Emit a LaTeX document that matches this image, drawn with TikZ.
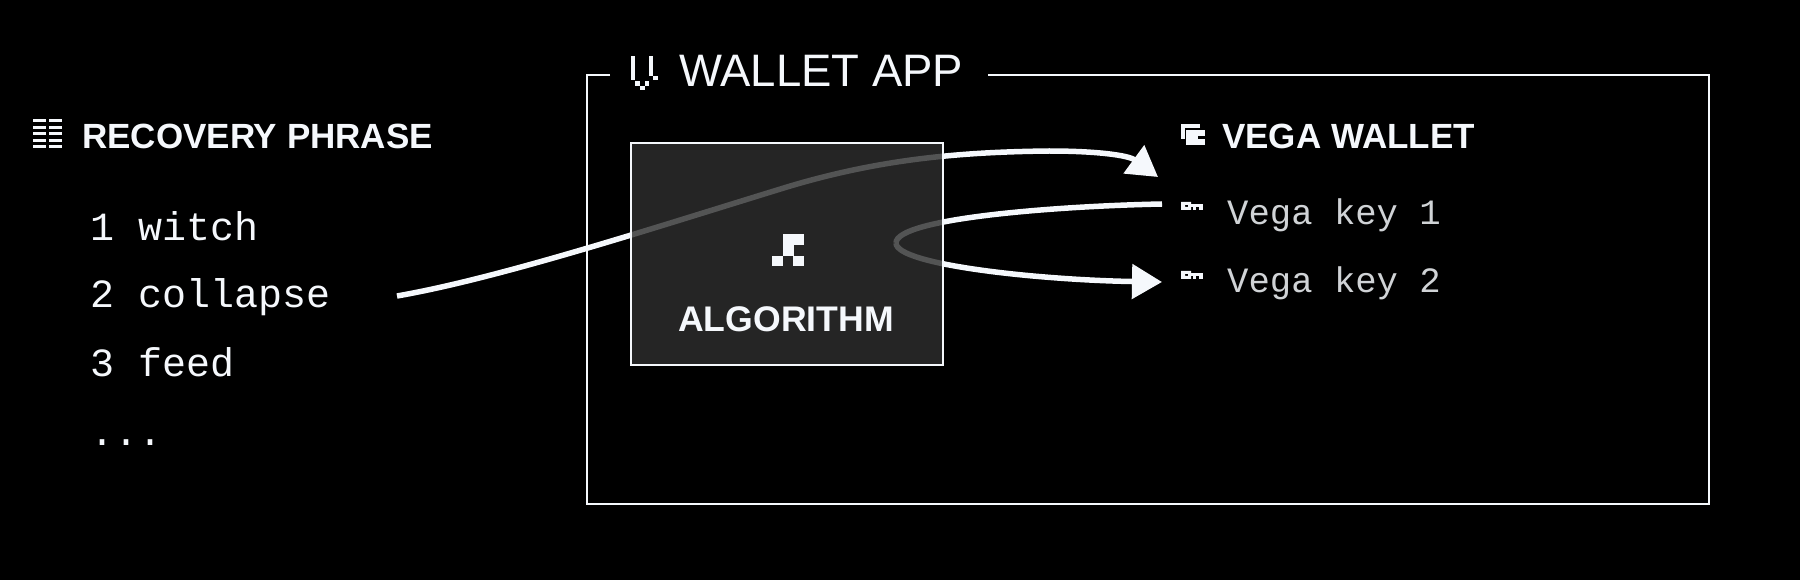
\documentclass[tikz,border=0pt]{standalone}
\usepackage{fontspec}
\setmainfont{Liberation Sans}
\setmonofont{Liberation Mono}
\usetikzlibrary{arrows.meta}
\definecolor{vegawhite}{HTML}{F5F8FC}
\definecolor{algofill}{HTML}{2E2E2E}
\begin{document}
\begin{tikzpicture}[
	x=1pt, y=-1pt,
	heading/.style={ text=vegawhite, anchor=base west, inner sep=0pt, font=\bfseries\fontsize{35}{35}\selectfont },
	apptitle/.style={ text=vegawhite, anchor=base west, inner sep=0pt, font=\fontsize{45.5}{46}\selectfont },
	word/.style={ text=vegawhite, anchor=base west, inner sep=0pt, font=\ttfamily\fontsize{40}{40}\selectfont },
	keyname/.style={ text=vegawhite!85!black, anchor=base west, inner sep=0pt, font=\ttfamily\fontsize{35.6}{36}\selectfont },
	algobox/.style={ draw=vegawhite, line width=2pt, fill=algofill, fill opacity=0.81, draw opacity=1, inner sep=0pt, minimum width=312pt, minimum height=222pt },
	link/.style={ vegawhite, line width=5.5pt },
	linkhead/.style={ -{Triangle[length=30pt,width=34pt]} },
	pixel/.style={ vegawhite, fill }
]

\path[fill=black,use as bounding box] (0,0) rectangle (1800,580);

% left list
\foreach \y in {119.5,126,132.5,139,145.5} {
	\fill[pixel] (33,\y) rectangle (46,\y+3);
	\fill[pixel] (49,\y) rectangle (62,\y+3);
}
\node at (82,149) (phrase) [heading] {RECOVERY PHRASE};
\node at (90,241) (word1) [word] {1 witch};
\node at (90,308) (word2) [word] {2 collapse};
\node at (90,376) (word3) [word] {3 feed};
\node at (90,445) (word4) [word] {...};

% app frame
\draw[vegawhite,line width=2pt] (610,75) -- (587,75) -- (587,504) -- (1709,504) -- (1709,75) -- (988,75);
\fill[pixel] (631,56) rectangle (635,80);
\fill[pixel] (649,56) rectangle (653,76);
\fill[pixel] (653,76) rectangle (658,80);
\fill[pixel] (635,81) rectangle (640,86);
\fill[pixel] (640,86) rectangle (645,90);
\fill[pixel] (645,81) rectangle (649,86);
\node at (679,87) (app) [apptitle] {WALLET APP};

% wallet side
\fill[pixel] (1181,124) rectangle (1200,128);
\fill[pixel] (1181,124) rectangle (1185,139);
\fill[pixel] (1186,130) rectangle (1205,145);
\fill[black] (1198,136) rectangle (1205,139);
\node at (1222,149) (wallet) [heading] {VEGA WALLET};
\foreach \y in {202,271} {
	\begin{scope}[yshift=-\y pt]
		\fill[pixel,even odd rule] (1181,0) rectangle (1191,8) (1185,3) rectangle (1188,5);
		\fill[pixel] (1191,2) rectangle (1203,5);
		\fill[pixel] (1193,5) rectangle (1196,8);
		\fill[pixel] (1199,5) rectangle (1203,8);
	\end{scope}
}
\node at (1227,225) (key1) [keyname] {Vega key 1};
\node at (1227,293) (key2) [keyname] {Vega key 2};

% links, box goes on top
\coordinate (phraseout) at (397,296);
\coordinate (walletin) at (1158,177);
\coordinate (key1out) at (1162,204);
\coordinate (algoturn) at (896,243);
\coordinate (key2in) at (1162,282);
\draw[link,linkhead] (phraseout) .. controls (500,278) and (650,229) .. (787,187) .. controls (880,159) and (960,152) .. (1049,151) .. controls (1095,151) and (1128,155) .. (walletin);
\draw[link] (key1out) .. controls (1060,206) and (896,218) .. (algoturn);
\draw[link,linkhead] (algoturn) .. controls (896,265) and (1040,280) .. (key2in);

\node at (787,254) (algo) [algobox] {};
\fill[pixel] (783,234) rectangle (804,245);
\fill[pixel] (783,245) rectangle (794,256);
\fill[pixel] (772,256) rectangle (783,266);
\fill[pixel] (793,256) rectangle (804,266);
\node at (678,331) (algoname) [heading,font=\bfseries\fontsize{35.6}{36}\selectfont] {ALGORITHM};

\end{tikzpicture}
\end{document}
